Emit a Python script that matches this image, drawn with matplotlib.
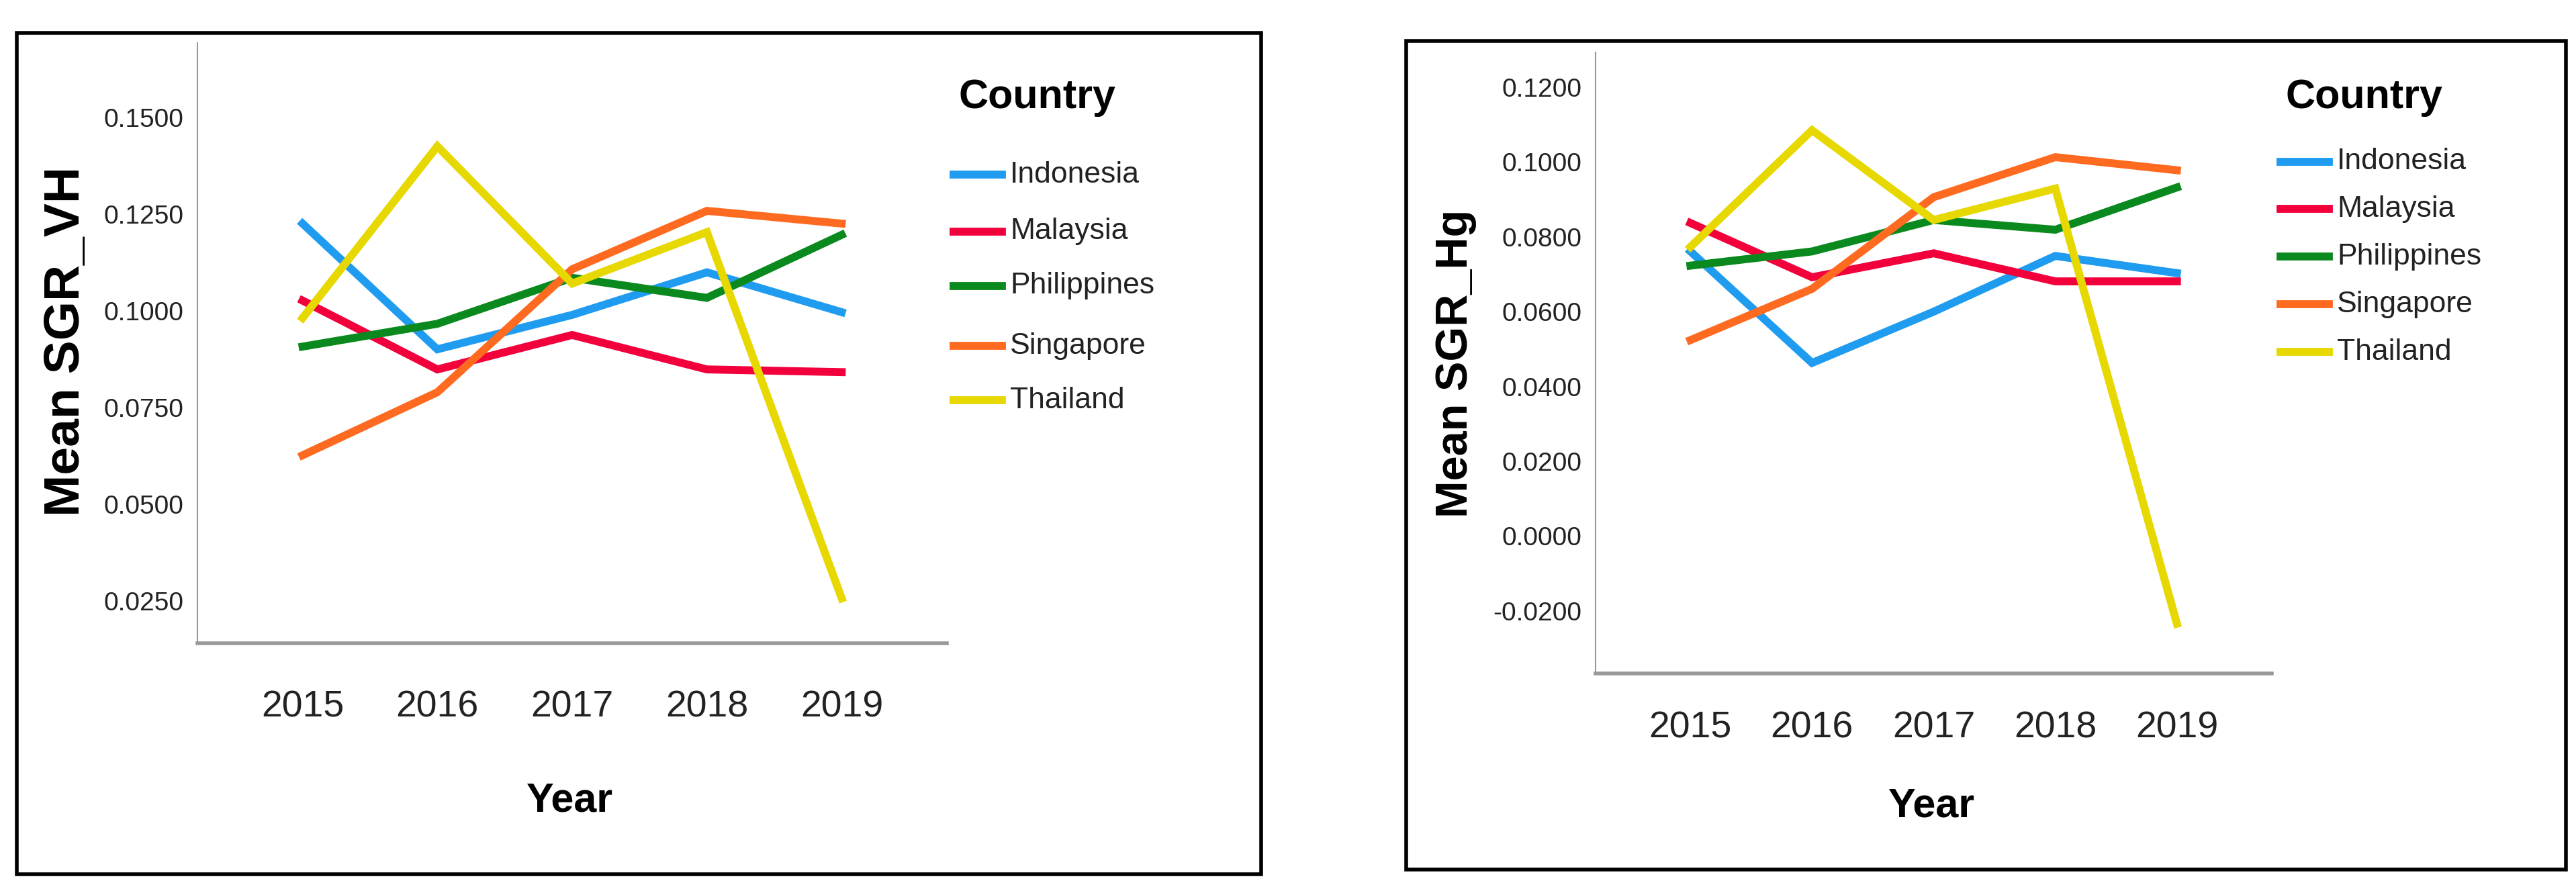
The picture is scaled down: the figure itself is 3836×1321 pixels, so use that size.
import matplotlib

matplotlib.use("Agg")
import matplotlib.pyplot as plt
from matplotlib.lines import Line2D
from matplotlib.patches import Rectangle

W, H = 3837, 1321
DPI = 100

YEARS = [2015, 2016, 2017, 2018, 2019]
COUNTRIES = ["Indonesia", "Malaysia", "Philippines", "Singapore", "Thailand"]
COLORS = ["#1f9cf0", "#f2003c", "#0a8a1e", "#ff6a21", "#e6d800"]

# Mean SGR_VH
SGR_VH = {
    "Indonesia": [0.1226, 0.0901, 0.0990, 0.1100, 0.0997],
    "Malaysia": [0.1027, 0.0849, 0.0938, 0.0849, 0.0842],
    "Philippines": [0.0908, 0.0967, 0.1086, 0.1034, 0.1197],
    "Singapore": [0.0627, 0.0790, 0.1108, 0.1259, 0.1226],
    "Thailand": [0.0982, 0.1426, 0.1071, 0.1204, 0.0257],
}
VH_TICKS = [0.025, 0.05, 0.075, 0.10, 0.125, 0.15]

# Mean SGR_Hg
SGR_HG = {
    "Indonesia": [0.0761, 0.0463, 0.0600, 0.0749, 0.0703],
    "Malaysia": [0.0837, 0.0692, 0.0756, 0.0681, 0.0681],
    "Philippines": [0.0723, 0.0761, 0.0845, 0.0819, 0.0932],
    "Singapore": [0.0524, 0.0661, 0.0906, 0.1013, 0.0978],
    "Thailand": [0.0773, 0.1085, 0.0845, 0.0929, -0.0234],
}
HG_TICKS = [-0.02, 0.0, 0.02, 0.04, 0.06, 0.08, 0.10, 0.12]

NARROW = ["Liberation Sans Narrow", "Liberation Sans", "DejaVu Sans"]
WIDE = ["Liberation Sans", "DejaVu Sans"]


def fx(x):
    return x / W


def fy(y):
    return 1 - y / H


def panel(fig, data, ticks, ylim, box, axbox, ylabel, ylab_xy, year_pad,
          xlab_xy, legend_x, legend_title_y, legend_ys, ylab_size):
    x0, y0, x1, y1 = box
    fig.add_artist(Rectangle((fx(x0), fy(y1)), fx(x1 - x0), (y1 - y0) / H,
                             transform=fig.transFigure, fill=False,
                             edgecolor="black", linewidth=4))
    ax0, ay0, ax1, ay1 = axbox
    ax = fig.add_axes([fx(ax0), fy(ay1), fx(ax1 - ax0), (ay1 - ay0) / H])
    for country, color in zip(COUNTRIES, COLORS):
        ax.plot(YEARS, data[country], color=color, linewidth=8.5,
                solid_joinstyle="miter")
    ax.set_xlim(2014.22, 2019.78)
    ax.set_ylim(*ylim)
    ax.set_xticks(YEARS)
    ax.set_xticklabels([str(y) for y in YEARS], fontsize=40, family=NARROW,
                       color="#222222")
    ax.set_yticks(ticks)
    ax.set_yticklabels([f"{t:.4f}" for t in ticks], fontsize=28,
                       family=NARROW, color="#222222")
    ax.tick_params(axis="y", length=0, pad=15)
    ax.tick_params(axis="x", length=0, pad=year_pad)
    for s in ("top", "right"):
        ax.spines[s].set_visible(False)
    ax.spines["left"].set_color("#999999")
    ax.spines["left"].set_linewidth(1.5)
    ax.spines["bottom"].set_color("#999999")
    ax.spines["bottom"].set_linewidth(4)

    fig.text(fx(ylab_xy[0]), fy(ylab_xy[1]), ylabel, rotation=90,
             ha="center", va="center", fontsize=ylab_size,
             fontweight="bold", family=WIDE)
    fig.text(fx(xlab_xy[0]), fy(xlab_xy[1]), "Year", ha="center", va="center",
             fontsize=44, fontweight="bold", family=NARROW)
    fig.text(fx(legend_x + 125), fy(legend_title_y), "Country", ha="center",
             va="center", fontsize=44, fontweight="bold", family=NARROW)
    for country, color, ly in zip(COUNTRIES, COLORS, legend_ys):
        fig.add_artist(Line2D([fx(legend_x), fx(legend_x + 72)],
                              [fy(ly), fy(ly)], transform=fig.transFigure,
                              color=color, linewidth=8.5))
        fig.text(fx(legend_x + 84), fy(ly), country, ha="left", va="center",
                 fontsize=32, family=NARROW, color="#222222")
    return ax


fig = plt.figure(figsize=(W / DPI, H / DPI), dpi=DPI)

panel(fig, SGR_VH, VH_TICKS, (0.0141, 0.1693),
      box=(25, 49, 1878, 1302), axbox=(294, 64, 1410, 958),
      ylabel="Mean SGR_VH", ylab_xy=(99, 509), year_pad=50,
      xlab_xy=(849, 1193), legend_x=1420, legend_title_y=145,
      legend_ys=[260, 345, 426, 515, 596], ylab_size=54)

panel(fig, SGR_HG, HG_TICKS, (-0.0367, 0.1293),
      box=(2094, 61, 3821, 1295), axbox=(2376, 78, 3383, 1003),
      ylabel="Mean SGR_Hg", ylab_xy=(2168, 541), year_pad=40,
      xlab_xy=(2877, 1201), legend_x=3396, legend_title_y=145,
      legend_ys=[241, 311, 382, 453, 524], ylab_size=48)

fig.savefig("out.png", dpi=DPI)
